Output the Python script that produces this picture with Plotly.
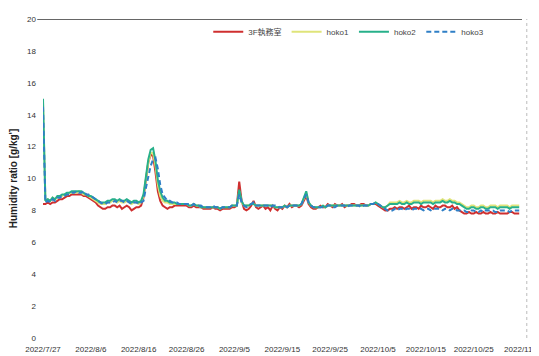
import pandas as pd
import plotly.graph_objects as go

# 12-hourly samples from 2022-07-27 00:00 to 2022-11-03 12:00
times = pd.date_range("2022-07-27 00:00", periods=200, freq="12h")

series_names = ["3F執務室", "hoko1", "hoko2", "hoko3"]

r_3f = [
    8.4, 8.4, 8.5, 8.4, 8.5, 8.5, 8.6, 8.7, 8.7, 8.8, 8.9, 8.9, 9.0, 9.0, 9.0, 9.0, 9.0, 8.9, 8.9, 8.8,
    8.7, 8.6, 8.5, 8.3, 8.2, 8.1, 8.1, 8.2, 8.2, 8.3, 8.3, 8.2, 8.3, 8.1, 8.2, 8.3, 8.2, 8.0, 8.1, 8.2,
    8.2, 8.3, 8.8, 10.0, 11.0, 11.5, 11.4, 10.4, 9.2, 8.6, 8.3, 8.2, 8.1, 8.2, 8.2, 8.3, 8.3, 8.3, 8.3, 8.3,
    8.3, 8.2, 8.2, 8.3, 8.2, 8.2, 8.2, 8.1, 8.1, 8.1, 8.1, 8.2, 8.1, 8.1, 8.0, 8.1, 8.1, 8.1, 8.1, 8.2,
    8.2, 8.3, 9.8, 8.6, 8.1, 8.0, 8.1, 8.3, 8.6, 8.2, 8.1, 8.2, 8.3, 8.1, 8.2, 8.0, 8.3, 8.1, 8.0, 8.2,
    8.1, 8.3, 8.2, 8.4, 8.2, 8.3, 8.3, 8.2, 8.3, 8.6, 8.9, 8.4, 8.2, 8.1, 8.1, 8.2, 8.3, 8.2, 8.2, 8.4,
    8.3, 8.2, 8.4, 8.3, 8.3, 8.4, 8.2, 8.3, 8.3, 8.4, 8.4, 8.3, 8.3, 8.4, 8.4, 8.3, 8.3, 8.4, 8.4, 8.4,
    8.3, 8.2, 8.1, 8.0, 8.0, 8.1, 8.1, 8.2, 8.1, 8.2, 8.2, 8.1, 8.2, 8.3, 8.1, 8.2, 8.2, 8.1, 8.3, 8.2,
    8.2, 8.3, 8.2, 8.1, 8.3, 8.2, 8.2, 8.3, 8.3, 8.2, 8.2, 8.3, 8.1, 8.2, 8.0, 7.9, 7.8, 7.8, 7.9, 7.8,
    7.8, 7.9, 7.8, 7.8, 7.9, 7.8, 7.8, 7.9, 7.8, 7.8, 7.9, 7.8, 7.8, 7.8, 7.8, 7.9, 7.9, 7.8, 7.8, 7.8,
]

hoko1 = [
    14.8, 8.6, 8.7, 8.6, 8.8, 8.7, 8.8, 8.9, 8.9, 9.0, 9.0, 9.1, 9.1, 9.1, 9.1, 9.2, 9.1, 9.0, 9.0, 8.9,
    8.8, 8.7, 8.6, 8.5, 8.4, 8.4, 8.4, 8.5, 8.5, 8.6, 8.6, 8.5, 8.6, 8.5, 8.5, 8.6, 8.5, 8.4, 8.5, 8.5,
    8.4, 8.5, 8.9, 10.0, 11.0, 11.6, 11.6, 10.8, 9.6, 8.9, 8.6, 8.5, 8.5, 8.4, 8.4, 8.4, 8.4, 8.4, 8.4, 8.4,
    8.4, 8.3, 8.3, 8.4, 8.3, 8.3, 8.2, 8.2, 8.2, 8.2, 8.2, 8.2, 8.2, 8.2, 8.1, 8.2, 8.2, 8.2, 8.2, 8.3,
    8.3, 8.3, 9.2, 8.5, 8.3, 8.3, 8.3, 8.4, 8.4, 8.3, 8.3, 8.3, 8.3, 8.3, 8.3, 8.3, 8.3, 8.2, 8.2, 8.2,
    8.2, 8.3, 8.2, 8.3, 8.3, 8.3, 8.3, 8.3, 8.4, 8.7, 9.1, 8.5, 8.3, 8.2, 8.2, 8.2, 8.2, 8.3, 8.2, 8.3,
    8.3, 8.3, 8.3, 8.3, 8.3, 8.3, 8.3, 8.3, 8.3, 8.3, 8.3, 8.3, 8.3, 8.3, 8.3, 8.3, 8.3, 8.4, 8.4, 8.5,
    8.4, 8.3, 8.2, 8.2, 8.3, 8.5, 8.5, 8.5, 8.5, 8.6, 8.5, 8.5, 8.6, 8.5, 8.5, 8.6, 8.6, 8.6, 8.5, 8.6,
    8.6, 8.6, 8.6, 8.5, 8.6, 8.6, 8.6, 8.7, 8.6, 8.6, 8.7, 8.6, 8.6, 8.5, 8.5, 8.4, 8.3, 8.2, 8.2, 8.3,
    8.3, 8.2, 8.2, 8.3, 8.3, 8.2, 8.2, 8.3, 8.3, 8.3, 8.2, 8.3, 8.3, 8.3, 8.3, 8.2, 8.3, 8.3, 8.3, 8.3,
]

hoko2 = [
    15.0, 8.6, 8.7, 8.6, 8.8, 8.7, 8.9, 8.9, 9.0, 9.0, 9.1, 9.1, 9.2, 9.2, 9.2, 9.2, 9.2, 9.1, 9.0, 8.9,
    8.9, 8.8, 8.7, 8.6, 8.5, 8.5, 8.5, 8.6, 8.6, 8.7, 8.7, 8.6, 8.7, 8.6, 8.6, 8.7, 8.6, 8.5, 8.6, 8.6,
    8.5, 8.6, 9.0, 10.2, 11.2, 11.8, 11.9, 11.1, 9.9, 9.2, 8.8, 8.6, 8.6, 8.5, 8.5, 8.5, 8.4, 8.4, 8.4, 8.4,
    8.4, 8.3, 8.3, 8.4, 8.3, 8.3, 8.2, 8.2, 8.2, 8.2, 8.2, 8.2, 8.2, 8.2, 8.1, 8.2, 8.2, 8.2, 8.2, 8.3,
    8.3, 8.3, 9.3, 8.6, 8.3, 8.3, 8.3, 8.4, 8.4, 8.3, 8.3, 8.3, 8.3, 8.3, 8.3, 8.3, 8.3, 8.2, 8.2, 8.2,
    8.2, 8.3, 8.2, 8.3, 8.3, 8.3, 8.3, 8.3, 8.4, 8.8, 9.2, 8.5, 8.3, 8.2, 8.2, 8.2, 8.2, 8.3, 8.2, 8.3,
    8.3, 8.3, 8.3, 8.3, 8.3, 8.3, 8.3, 8.3, 8.3, 8.3, 8.3, 8.3, 8.3, 8.3, 8.3, 8.3, 8.3, 8.4, 8.4, 8.5,
    8.4, 8.3, 8.2, 8.2, 8.3, 8.4, 8.4, 8.4, 8.4, 8.5, 8.4, 8.4, 8.5, 8.4, 8.4, 8.5, 8.5, 8.5, 8.4, 8.5,
    8.5, 8.5, 8.5, 8.4, 8.5, 8.5, 8.5, 8.6, 8.5, 8.5, 8.6, 8.5, 8.5, 8.4, 8.4, 8.3, 8.2, 8.1, 8.1, 8.2,
    8.2, 8.1, 8.1, 8.2, 8.2, 8.1, 8.1, 8.2, 8.2, 8.2, 8.1, 8.2, 8.2, 8.2, 8.2, 8.1, 8.2, 8.2, 8.2, 8.2,
]

hoko3 = [
    14.5, 8.5, 8.6, 8.5, 8.7, 8.6, 8.8, 8.8, 8.9, 8.9, 9.0, 9.0, 9.1, 9.1, 9.2, 9.1, 9.1, 9.2, 9.0, 9.0,
    8.9, 8.8, 8.7, 8.6, 8.5, 8.4, 8.4, 8.5, 8.5, 8.5, 8.6, 8.5, 8.6, 8.6, 8.5, 8.6, 8.5, 8.4, 8.5, 8.5,
    8.4, 8.5, 8.6, 9.4, 10.2, 10.8, 11.2, 11.3, 10.6, 9.6, 9.0, 8.8, 8.6, 8.6, 8.5, 8.5, 8.5, 8.4, 8.4, 8.4,
    8.4, 8.4, 8.3, 8.4, 8.3, 8.3, 8.3, 8.2, 8.2, 8.2, 8.2, 8.3, 8.2, 8.2, 8.1, 8.2, 8.2, 8.2, 8.2, 8.3,
    8.3, 8.3, 9.0, 8.5, 8.3, 8.2, 8.3, 8.4, 8.5, 8.3, 8.3, 8.3, 8.3, 8.3, 8.3, 8.2, 8.3, 8.3, 8.2, 8.2,
    8.2, 8.3, 8.2, 8.3, 8.3, 8.3, 8.3, 8.3, 8.4, 8.7, 9.0, 8.5, 8.3, 8.2, 8.2, 8.2, 8.2, 8.2, 8.2, 8.3,
    8.3, 8.2, 8.2, 8.3, 8.3, 8.3, 8.3, 8.2, 8.3, 8.3, 8.3, 8.3, 8.3, 8.2, 8.3, 8.3, 8.3, 8.4, 8.4, 8.5,
    8.4, 8.3, 8.2, 8.1, 8.0, 8.0, 8.0, 8.1, 8.0, 8.1, 8.1, 8.0, 8.1, 8.1, 8.0, 8.1, 8.1, 8.1, 8.1, 8.0,
    8.1, 8.1, 8.0, 8.1, 8.1, 8.1, 8.1, 8.0, 8.1, 8.1, 8.0, 8.1, 8.1, 8.0, 8.0, 8.0, 8.0, 7.9, 7.9, 8.0,
    8.0, 7.9, 7.9, 8.0, 7.9, 8.0, 8.0, 8.0, 8.0, 7.9, 7.9, 8.0, 8.0, 8.0, 8.0, 7.9, 8.0, 8.0, 8.0, 8.0,
]

tick_dates = ["2022-07-27", "2022-08-06", "2022-08-16", "2022-08-26", "2022-09-05", "2022-09-15",
              "2022-09-25", "2022-10-05", "2022-10-15", "2022-10-25", "2022-11-04"]
tick_labels = ["2022/7/27", "2022/8/6", "2022/8/16", "2022/8/26", "2022/9/5", "2022/9/15",
               "2022/9/25", "2022/10/5", "2022/10/15", "2022/10/25", "2022/11/4"]
y_ticks = [0, 2, 4, 6, 8, 10, 12, 14, 16, 18, 20]

colors = ["#cf2f2f", "#dfe47a", "#27b08a", "#2f7fc6"]
dashes = ["solid", "solid", "solid", "5px,3px"]
values = [r_3f, hoko1, hoko2, hoko3]

fig = go.Figure()
for name, vals, col, dsh in zip(series_names, values, colors, dashes):
    fig.add_trace(go.Scatter(x=times, y=vals, mode="lines", name=name,
                             line=dict(color=col, width=2, dash=dsh)))

FONT = "Liberation Sans, Arial, Noto Sans CJK JP, sans-serif"
# the page body has an 8px default margin, so the figure is sized to the visible area
fig.update_layout(
    width=531, height=348,
    margin=dict(l=35, r=17, t=11, b=18, autoexpand=False),
    paper_bgcolor="white", plot_bgcolor="white",
    font=dict(family=FONT, size=8, color="#333333"),
    showlegend=True,
    legend=dict(orientation="h", x=0.345, y=0.96, xanchor="left", yanchor="middle",
                xref="paper", yref="paper",
                font=dict(size=8, color="#444444"), bgcolor="rgba(0,0,0,0)",
                itemwidth=30, tracegroupgap=0),
    xaxis=dict(range=["2022-07-27", "2022-11-04 02:00"], tickvals=tick_dates, ticktext=tick_labels,
               showgrid=False, zeroline=False, showline=False, ticks="",
               ticklabeloverflow="allow",
               ticklabelstandoff=5, tickfont=dict(size=8, color="#333333")),
    yaxis=dict(range=[0, 20], tickvals=y_ticks, showgrid=False, zeroline=False, showline=False,
               ticks="", ticklabelstandoff=6, tickfont=dict(size=8, color="#333333"),
               title=dict(text="<b>Humidity ratio [g/kg']</b>", font=dict(size=10, color="#222222"),
                          standoff=10)),
    shapes=[
        dict(type="line", xref="paper", yref="y", x0=-0.012, x1=1.0, y0=20, y1=20,
             line=dict(color="#333333", width=1.5)),
        dict(type="line", xref="paper", yref="paper", x0=1.01, x1=1.01, y0=0, y1=1,
             line=dict(color="#bbbbbb", width=1, dash="dot")),
    ],
)

fig.write_html("out.html")
